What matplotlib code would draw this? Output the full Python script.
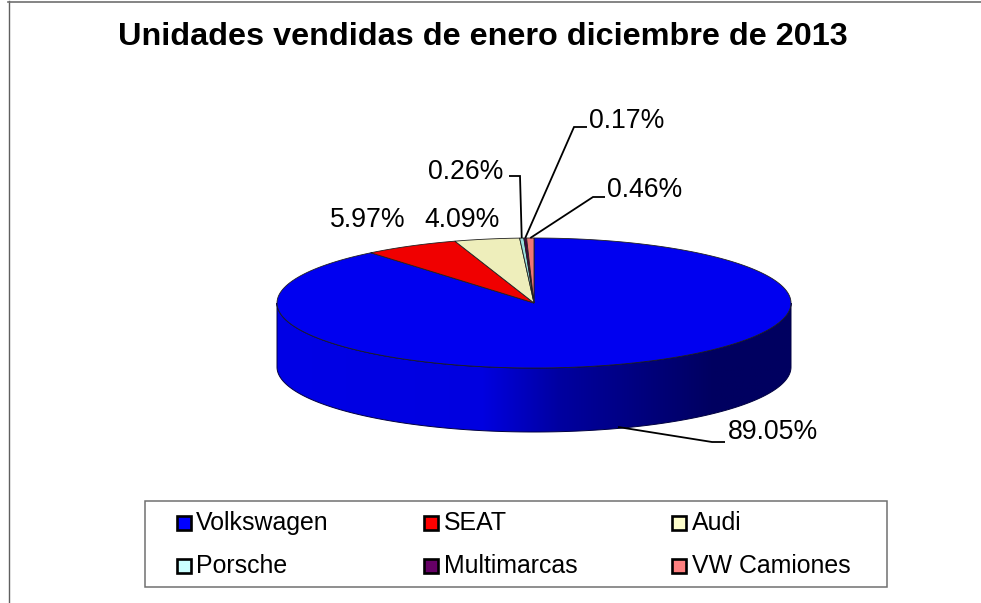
import numpy as np
import matplotlib
matplotlib.use('Agg')
import matplotlib.pyplot as plt
import matplotlib.patches as patches
from matplotlib.colors import LinearSegmentedColormap

plt.rcParams['font.family'] = ['Liberation Sans', 'DejaVu Sans']

marcas = ['Volkswagen', 'SEAT', 'Audi', 'Porsche', 'Multimarcas', 'VW Camiones']
valores = [89.05, 5.97, 4.09, 0.26, 0.17, 0.46]
etiquetas = ['89.05%', '5.97%', '4.09%', '0.26%', '0.17%', '0.46%']
colores = ['#0000FF', '#FF0000', '#FFFFCC', '#CCFFFF', '#660066', '#FF8080']
colores_tapa = ['#0000F0', '#F00000', '#EEEEBB', '#99DDDD', '#440044', '#EE7777']

# geometria del pastel en pixeles
cx, cy = 534, 303
rx, ry = 257, 65
alto = 64


def punto(ang):
    # angulo en grados, desde arriba y en sentido horario
    a = np.radians(ang)
    return cx + rx * np.sin(a), cy - ry * np.cos(a)


fig = plt.figure(figsize=(9.81, 6.03), dpi=100)
ax = fig.add_axes([0, 0, 1, 1])
ax.set_xlim(0, 981)
ax.set_ylim(603, 0)
ax.axis('off')

# borde del grafico (solo arriba e izquierda)
ax.plot([8.5, 8.5], [1, 603], color='#606060', lw=1)
ax.plot([8, 981], [1.5, 1.5], color='#707070', lw=1.2)

# pared lateral
ang = np.linspace(90, 270, 200)
xs, ys = punto(ang)
pared = np.concatenate([np.column_stack([xs, ys]),
                        np.column_stack([xs[::-1], ys[::-1] + alto])])
cmap = LinearSegmentedColormap.from_list(
    'lado', [(0, '#0000E6'), (0.4, '#0000E0'), (0.55, '#0000A0'),
             (0.7, '#000080'), (0.85, '#000060'), (1, '#000060')])
img = ax.imshow(np.linspace(0, 1, 256)[None, :], cmap=cmap, aspect='auto',
                extent=(cx - rx, cx + rx, cy + ry + alto, cy), zorder=1)
forma = patches.Polygon(pared, closed=True, facecolor='none',
                        edgecolor='#000040', lw=0.7, zorder=2)
ax.add_patch(forma)
img.set_clip_path(forma)
ax.set_xlim(0, 981)
ax.set_ylim(603, 0)

# tapa
acum = np.concatenate([[0], np.cumsum(valores)]) * 3.6 / (sum(valores) / 100)
medios = []
for i in range(len(valores)):
    a = np.linspace(acum[i], acum[i + 1], 200)
    px, py = punto(a)
    ax.add_patch(patches.Polygon(
        np.column_stack([np.r_[cx, px], np.r_[cy, py]]), closed=True,
        facecolor=colores_tapa[i], edgecolor='#202020', lw=0.6, zorder=3))
    medios.append((acum[i] + acum[i + 1]) / 2)

# etiquetas con lineas guia
pos_texto = [(773, 432), (368, 220), (462, 220), (466, 172), (627, 121), (645, 190)]
guias = [[(618, 427), (712, 442), (725, 442)],
         None,
         None,
         [(520, 176), (509, 176)],
         [(574, 127), (587, 127)],
         [(593, 197), (605, 197)]]
for i, txt in enumerate(etiquetas):
    ax.text(pos_texto[i][0], pos_texto[i][1], txt, fontsize=19.2, color='black',
            ha='center', va='center', zorder=6)
    if guias[i] is None:
        continue
    if i == 0:
        camino = guias[i]
    else:
        camino = [punto(medios[i])] + guias[i]
    ax.plot(*zip(*camino), color='black', lw=1.3, zorder=5,
            solid_capstyle='butt', solid_joinstyle='miter')

ax.text(483, 37, 'Unidades vendidas de enero diciembre de 2013', fontsize=23.3,
        fontweight='bold', ha='center', va='center', color='black')

# leyenda
ax.add_patch(patches.Rectangle((144.5, 501), 742, 85.5, facecolor='white',
                               edgecolor='#707070', lw=1.1, zorder=4))
col_x = [176.5, 424, 672]
fila_y = [522.5, 565.5]
for i, nombre in enumerate(marcas):
    x = col_x[i % 3]
    y = fila_y[i // 3]
    ax.add_patch(patches.Rectangle((x, y - 7), 14, 14, facecolor=colores[i],
                                   edgecolor='black', lw=1.9, zorder=5))
    ax.text(x + 19.5, y + 0.5, nombre, fontsize=17.9, color='black',
            ha='left', va='center', zorder=5)

fig.savefig('out.png', dpi=100)
